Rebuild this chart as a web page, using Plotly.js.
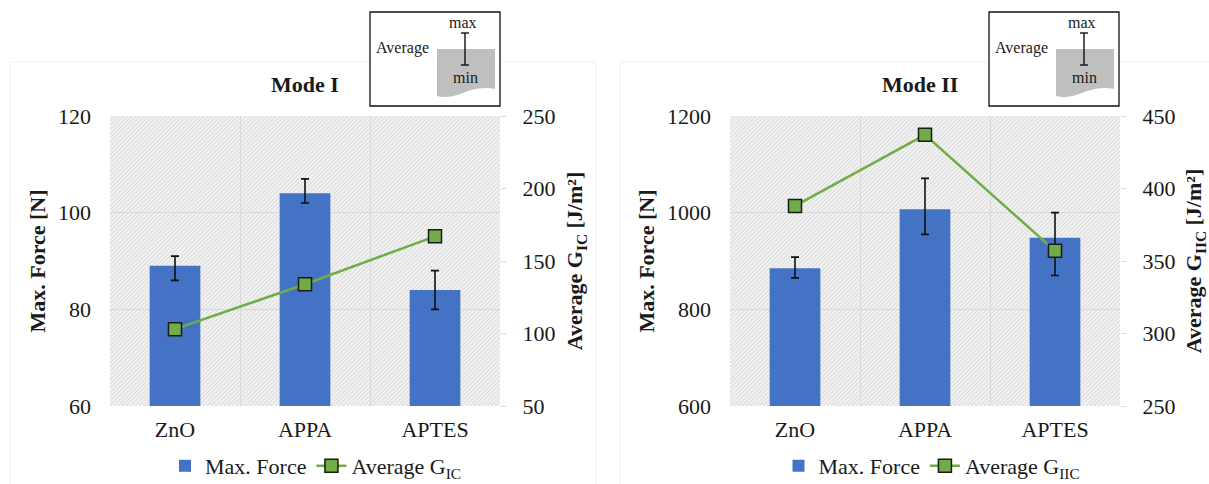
<!DOCTYPE html>
<html>
<head>
<meta charset="utf-8">
<script src="https://cdn.plot.ly/plotly-3.0.1.min.js"></script>
<style>html,body{margin:0;padding:0;background:#fff;}#chart{width:1209px;height:484px;}</style>
</head>
<body>
<div id="chart"></div>
<script>
// ---- data ----
const categories = ['ZnO', 'APPA', 'APTES'];
const forceModeI = [89, 104, 84];
const forceModeIErrPlus = [2, 3, 4];
const forceModeIErrMinus = [3, 2, 4];
const gicModeI = [103, 134, 167];

const forceModeII = [885, 1007, 948];
const forceModeIIErrPlus = [23, 64, 52];
const forceModeIIErrMinus = [20, 52, 78];
const giicModeII = [388, 437, 357];

const yTicksLeftI = [60, 80, 100, 120];
const yTicksRightI = [50, 100, 150, 200, 250];
const yTicksLeftII = [600, 800, 1000, 1200];
const yTicksRightII = [250, 300, 350, 400, 450];

// ---- style ----
const FONT = '"Times New Roman", "Liberation Serif", Times, serif';
const BLUE = '#4472C4';
const GREEN = '#70AD47';
const GRID = '#d9d9d9';
const TXT = '#1a1a1a';

// pixel -> paper helpers (plot area 110..1120 x, 116..406 y)
const L = 110, R = 89, T = 116, B = 78, W = 1209, H = 484;
const PW = W - L - R, PH = H - T - B;
const PX = x => (x - L) / PW;
const PY = y => (H - B - y) / PH;

const barTrace = (y, ep, em, xa, ya, leg) => ({
  type: 'bar', x: categories, y: y, name: 'Max. Force',
  xaxis: xa, yaxis: ya, legend: leg,
  marker: {color: BLUE},
  width: 0.39,
  error_y: {type: 'data', symmetric: false, array: ep, arrayminus: em,
            color: '#111', thickness: 1.6, width: 4}
});
const lineTrace = (y, name, xa, ya, leg) => ({
  type: 'scatter', mode: 'lines+markers', x: categories, y: y, name: name,
  xaxis: xa, yaxis: ya, legend: leg,
  line: {color: GREEN, width: 2.5},
  marker: {symbol: 'square', size: 13, color: GREEN, line: {color: '#1a1a1a', width: 1.5}}
});

const traces = [
  barTrace(forceModeI, forceModeIErrPlus, forceModeIErrMinus, 'x', 'y', 'legend'),
  lineTrace(gicModeI, 'Average G<sub>IC</sub>', 'x', 'y2', 'legend'),
  barTrace(forceModeII, forceModeIIErrPlus, forceModeIIErrMinus, 'x2', 'y3', 'legend2'),
  lineTrace(giicModeII, 'Average G<sub>IIC</sub>', 'x2', 'y4', 'legend2')
];

const tickFont = {family: FONT, size: 22, color: TXT};
const titleFont = {family: FONT, size: 22, color: TXT, weight: 'bold'};

const xBase = dom => ({
  domain: dom, type: 'category', tickson: 'boundaries',
  showgrid: true, gridcolor: GRID, gridwidth: 1,
  ticks: '', showline: false, zeroline: false, automargin: false,
  tickfont: tickFont, ticklabelstandoff: 8, range: [-0.5, 2.5], fixedrange: true
});
const yLeft = (range, tv, title) => ({
  range: range, tickvals: tv, showgrid: true, gridcolor: GRID, gridwidth: 1,
  zeroline: false, showline: false, ticks: '', tickfont: tickFont, automargin: false,
  ticklabelstandoff: 18,
  title: {text: title, font: titleFont, standoff: 6}
});
const yRight = (range, tv, title, over, anchor) => ({
  range: range, tickvals: tv, overlaying: over, anchor: anchor, side: 'right',
  showgrid: false, zeroline: false, showline: false, automargin: false,
  ticks: 'outside', ticklen: 5, tickcolor: GRID, tickfont: tickFont,
  ticklabelstandoff: 12,
  title: {text: title, font: titleFont, standoff: 12}
});

// background hatch pattern
const hatchSvg = "<svg xmlns='http://www.w3.org/2000/svg' width='390' height='290'>" +
  "<defs><pattern id='p' width='3' height='3' patternUnits='userSpaceOnUse' patternTransform='rotate(45)'>" +
  "<rect width='3' height='3' fill='#f2f2f2'/><line x1='0' y1='0' x2='0' y2='3' stroke='#cfcfcf' stroke-width='1.3'/>" +
  "</pattern></defs><rect width='390' height='290' fill='url(#p)'/></svg>";
const hatchSrc = 'data:image/svg+xml;charset=utf-8,' + encodeURIComponent(hatchSvg);

const shapes = [];
const annotations = [];

// faint chart-panel borders
shapes.push({type: 'rect', xref: 'paper', yref: 'paper', x0: PX(10), x1: PX(596), y0: PY(490), y1: PY(62),
  line: {color: '#f0f0f0', width: 1}, layer: 'below'});
shapes.push({type: 'rect', xref: 'paper', yref: 'paper', x0: PX(620), x1: PX(1215), y0: PY(490), y1: PY(62),
  line: {color: '#f0f0f0', width: 1}, layer: 'below'});

// inset legend illustration (two copies)
function inset(dx) {
  shapes.push({type: 'rect', xref: 'paper', yref: 'paper',
    x0: PX(370 + dx), x1: PX(500 + dx), y0: PY(106), y1: PY(12),
    line: {color: '#111', width: 1.3}, fillcolor: '#ffffff'});
  const p = (x, y) => PX(x + dx) + ',' + PY(y);
  shapes.push({type: 'path', xref: 'paper', yref: 'paper',
    path: 'M' + p(437, 49) + ' L' + p(495, 49) + ' L' + p(495, 89) +
          ' C' + p(482, 86) + ' ' + p(470, 90) + ' ' + p(460, 94) +
          ' C' + p(452, 97) + ' ' + p(444, 98) + ' ' + p(437, 96) + ' Z',
    fillcolor: '#bfbfbf', line: {width: 0}});
  const ln = (x0, y0, x1, y1) => shapes.push({type: 'line', xref: 'paper', yref: 'paper',
    x0: PX(x0 + dx), y0: PY(y0), x1: PX(x1 + dx), y1: PY(y1), line: {color: '#111', width: 1.4}});
  ln(465, 33, 465, 65); ln(461, 33, 469, 33); ln(461, 65, 469, 65);
  const txt = (t, x, y) => annotations.push({xref: 'paper', yref: 'paper', x: PX(x + dx), y: PY(y),
    text: t, showarrow: false, xanchor: 'center', yanchor: 'middle',
    font: {family: FONT, size: 16, color: TXT}});
  txt('max', 463, 22); txt('Average', 402, 48); txt('min', 465, 77);
}
inset(0);
inset(619);

// subplot titles
annotations.push({xref: 'paper', yref: 'paper', x: PX(305), y: PY(85), text: 'Mode I', showarrow: false,
  xanchor: 'center', yanchor: 'middle', font: titleFont});
annotations.push({xref: 'paper', yref: 'paper', x: PX(920), y: PY(85), text: 'Mode II', showarrow: false,
  xanchor: 'center', yanchor: 'middle', font: titleFont});

const legendBase = (x) => ({
  orientation: 'h', x: x / W, y: 1 - 466 / H, xanchor: 'center', yanchor: 'middle',
  xref: 'container', yref: 'container',
  font: {family: FONT, size: 22, color: TXT}, bgcolor: 'rgba(0,0,0,0)',
  itemwidth: 30, tracegroupgap: 0
});

const layout = {
  width: W, height: H,
  margin: {l: L, r: R, t: T, b: B, pad: 0, autoexpand: false},
  paper_bgcolor: '#ffffff', plot_bgcolor: 'rgba(0,0,0,0)',
  font: {family: FONT, color: TXT, size: 22},
  showlegend: true,
  bargap: 0.61,
  xaxis: Object.assign(xBase([0, PX(500)]), {anchor: 'y'}),
  yaxis: Object.assign(yLeft([60, 120], yTicksLeftI, 'Max. Force [N]'), {anchor: 'x', domain: [0, 1]}),
  yaxis2: yRight([50, 250], yTicksRightI, 'Average G<sub>IC</sub> [J/m²]', 'y', 'x'),
  xaxis2: Object.assign(xBase([PX(730), 1]), {anchor: 'y3'}),
  yaxis3: Object.assign(yLeft([600, 1200], yTicksLeftII, 'Max. Force [N]'), {anchor: 'x2', domain: [0, 1]}),
  yaxis4: yRight([250, 450], yTicksRightII, 'Average G<sub>IIC</sub> [J/m²]', 'y3', 'x2'),
  legend: legendBase(316),
  legend2: legendBase(932),
  images: [
    {source: hatchSrc, xref: 'paper', yref: 'paper', x: 0, y: 1, sizex: PX(500), sizey: 1,
     sizing: 'stretch', xanchor: 'left', yanchor: 'top', layer: 'below'},
    {source: hatchSrc, xref: 'paper', yref: 'paper', x: PX(730), y: 1, sizex: 1 - PX(730), sizey: 1,
     sizing: 'stretch', xanchor: 'left', yanchor: 'top', layer: 'below'}
  ],
  shapes: shapes,
  annotations: annotations
};

Plotly.newPlot('chart', traces, layout, {displayModeBar: false, staticPlot: true});
</script>
</body>
</html>
